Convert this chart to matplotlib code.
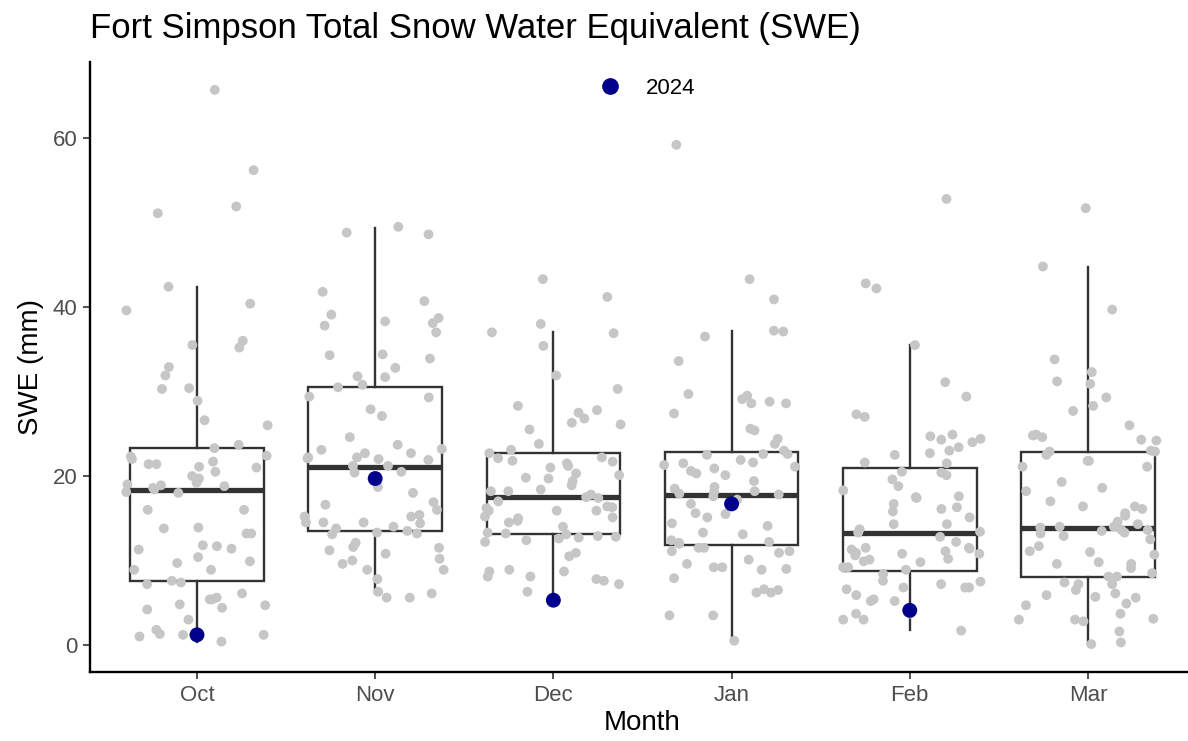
import numpy as np
import matplotlib
matplotlib.use("Agg")
import matplotlib.pyplot as plt
from matplotlib.lines import Line2D

plt.rcParams['font.family'] = ['Liberation Sans', 'DejaVu Sans']

months = ['Oct', 'Nov', 'Dec', 'Jan', 'Feb', 'Mar']

# SWE (mm) of every year
swe_oct = [65.7, 56.2, 51.9, 51.1, 42.4, 40.4, 39.6, 36.0, 35.2, 35.5,
           32.9, 31.9, 30.3, 30.4, 28.9, 26.6, 26.0, 23.7, 23.3, 22.4,
           21.4, 21.4, 21.7, 22.0, 22.3, 21.1, 20.0, 21.0, 20.5, 19.7,
           19.2, 18.9, 19.0, 18.6, 18.8, 18.4, 18.0, 18.1, 16.0, 16.0,
           13.8, 13.2, 13.9, 13.2, 11.7, 11.4, 11.3, 11.8, 10.4, 9.9,
           9.7, 8.9, 8.9, 7.4, 7.6, 7.2, 6.1, 4.8, 4.7, 5.4,
           5.4, 5.6, 4.4, 4.2, 3.0, 1.3, 1.2, 1.0, 1.2, 1.8, 0.4]
swe_nov = [48.8, 48.6, 49.5, 41.8, 40.7, 38.7, 38.1, 38.3, 37.8, 39.1,
           37.0, 34.4, 34.3, 33.9, 32.8, 31.7, 31.8, 30.8, 30.5, 29.4,
           29.3, 27.9, 27.1, 24.6, 22.7, 22.1, 22.2, 22.2, 23.1, 23.2,
           23.7, 22.7, 22.0, 21.9, 21.2, 21.2, 20.5, 20.4, 18.7, 18.0,
           16.9, 16.6, 16.0, 15.2, 15.2, 15.4, 14.5, 14.5, 14.4, 14.5,
           14.0, 13.2, 13.3, 13.5, 13.8, 13.1, 12.1, 11.2, 11.6, 11.5,
           10.8, 10.0, 9.6, 10.2, 8.9, 8.9, 7.8, 6.3, 6.1, 5.6, 5.6]
swe_dec = [43.3, 41.2, 38.0, 36.9, 37.0, 35.4, 31.9, 30.3, 28.3, 27.8,
           27.5, 26.8, 26.3, 26.1, 25.5, 23.8, 23.1, 22.7, 21.8, 21.7,
           22.2, 22.1, 21.2, 21.0, 21.5, 20.3, 19.8, 20.1, 19.7, 18.9,
           19.4, 18.2, 18.2, 18.4, 17.8, 17.4, 17.5, 17.0, 16.3, 15.9,
           16.4, 15.9, 15.1, 15.9, 16.2, 15.2, 15.0, 14.7, 14.5, 14.0,
           13.3, 13.1, 13.2, 12.7, 12.2, 12.4, 12.8, 12.6, 12.9, 10.9,
           10.5, 8.9, 8.7, 8.1, 7.8, 7.2, 7.6, 8.7, 8.1, 6.3]
swe_jan = [59.2, 43.3, 40.9, 36.5, 37.1, 37.2, 33.6, 28.8, 28.6, 29.7,
           29.1, 28.6, 29.5, 27.4, 25.4, 25.6, 24.4, 23.8, 22.5, 22.6,
           23.0, 22.6, 21.5, 21.3, 21.6, 20.6, 21.9, 21.1, 20.9, 20.3,
           20.1, 19.4, 18.5, 18.7, 17.9, 18.2, 17.8, 18.1, 17.6, 17.2,
           16.7, 15.6, 15.1, 15.5, 14.4, 14.1, 13.1, 13.3, 12.4, 12.2,
           12.1, 12.0, 12.0, 11.1, 11.1, 11.5, 11.5, 10.9, 10.1, 9.6,
           9.2, 9.0, 9.2, 8.9, 7.9, 6.6, 6.2, 6.5, 6.2, 3.5, 3.5, 0.5]
swe_feb = [52.8, 42.8, 42.2, 35.5, 31.1, 29.4, 27.3, 27.0, 24.9, 24.7,
           24.3, 24.4, 24.0, 23.4, 23.0, 22.5, 22.7, 21.6, 21.5, 20.1,
           20.4, 20.5, 19.6, 18.8, 18.3, 17.6, 17.5, 16.7, 17.4, 16.1,
           15.8, 16.3, 15.1, 14.3, 13.3, 14.3, 13.4, 13.7, 12.8, 12.2,
           11.4, 10.9, 11.3, 10.8, 10.6, 9.9, 9.8, 10.8, 11.1, 11.5,
           11.5, 10.1, 10.2, 9.2, 8.9, 9.2, 8.4, 7.6, 7.2, 6.8,
           6.6, 7.5, 6.8, 6.8, 5.4, 5.2, 5.2, 5.9, 3.0, 3.7,
           3.7, 3.0, 1.7]
swe_mar = [51.7, 44.8, 39.7, 33.8, 32.3, 31.2, 30.9, 29.3, 28.3, 27.7,
           26.0, 24.3, 24.6, 24.9, 24.8, 24.2, 23.0, 22.9, 22.9, 22.5,
           21.8, 21.8, 21.1, 21.1, 19.3, 18.6, 18.2, 17.0, 16.4, 16.1,
           15.3, 16.4, 15.6, 14.6, 14.3, 14.0, 13.6, 14.0, 13.2, 13.3,
           13.9, 13.6, 13.5, 12.9, 12.5, 11.7, 11.0, 11.1, 10.7, 9.8,
           9.6, 9.6, 9.1, 8.1, 8.1, 8.5, 7.2, 6.5, 6.1, 5.6,
           7.4, 7.2, 5.9, 5.7, 4.9, 4.7, 3.7, 3.0, 3.1, 2.8,
           3.0, 1.6, 0.1, 0.3]
all_swe = [swe_oct, swe_nov, swe_dec, swe_jan, swe_feb, swe_mar]

# 2024 season (no March value)
months_2024 = ['Oct', 'Nov', 'Dec', 'Jan', 'Feb']
swe_2024 = [1.2, 19.7, 5.3, 16.7, 4.1]

# box summary
box_q1 = [7.6, 13.5, 13.1, 11.8, 8.7, 8.1]
box_med = [18.4, 21.1, 17.5, 17.8, 13.3, 13.9]
box_q3 = [23.3, 30.5, 22.7, 22.9, 21.0, 22.8]
box_lo = [0.4, 6.1, 5.3, 0.5, 1.8, 0.1]
box_hi = [42.4, 49.4, 37.0, 37.2, 35.5, 44.7]

fig = plt.figure(figsize=(11.88, 7.41), dpi=100)
ax = fig.add_axes([0.0758, 0.0931, 0.93, 0.8232])

stats = []
for i in range(len(months)):
    stats.append(dict(q1=box_q1[i], med=box_med[i], q3=box_q3[i],
                      whislo=box_lo[i], whishi=box_hi[i], label=months[i]))

ax.bxp(stats, positions=range(len(months)), widths=0.75, showcaps=False,
       showfliers=False, patch_artist=True,
       boxprops=dict(facecolor='white', edgecolor='#333333', linewidth=1.7),
       whiskerprops=dict(color='#333333', linewidth=1.7),
       medianprops=dict(color='#333333', linewidth=3.8, solid_capstyle='butt'),
       zorder=2)

# jittered points, like geom_jitter(width = 0.4)
rng = np.random.default_rng(7)
for i, vals in enumerate(all_swe):
    xj = i + rng.uniform(-0.4, 0.4, len(vals))
    ax.scatter(xj, vals, s=50, color='#c6c6c6', edgecolors='none', zorder=3)

x24 = [months.index(m) for m in months_2024]
ax.scatter(x24, swe_2024, s=115, color='#00008B', edgecolors='none', zorder=4)

ax.set_xlim(-0.6, len(months) - 0.4)
ax.set_ylim(-3.2, 69.0)
ax.set_xticks(range(len(months)))
ax.set_xticklabels(months)
ax.set_yticks([0, 20, 40, 60])
ax.tick_params(axis='both', labelsize=16, labelcolor='#4D4D4D', color='#333333',
               length=5, width=1.2, pad=4)
ax.spines['top'].set_visible(False)
ax.spines['right'].set_visible(False)
ax.spines['left'].set_linewidth(1.7)
ax.spines['bottom'].set_linewidth(1.7)

ax.set_xlabel('Month', fontsize=20, labelpad=3)
ax.set_ylabel('SWE (mm)', fontsize=20, labelpad=6)
fig.text(0.0758, 0.962, 'Fort Simpson Total Snow Water Equivalent (SWE)',
         fontsize=25, ha='left', va='center')

handle = Line2D([], [], marker='o', linestyle='none', color='#00008B', markersize=11)
fig.legend([handle], ['2024'], loc='center', bbox_to_anchor=(0.540, 0.881),
           frameon=False, fontsize=16, handletextpad=0.65)

fig.savefig('out.png', dpi=100)
